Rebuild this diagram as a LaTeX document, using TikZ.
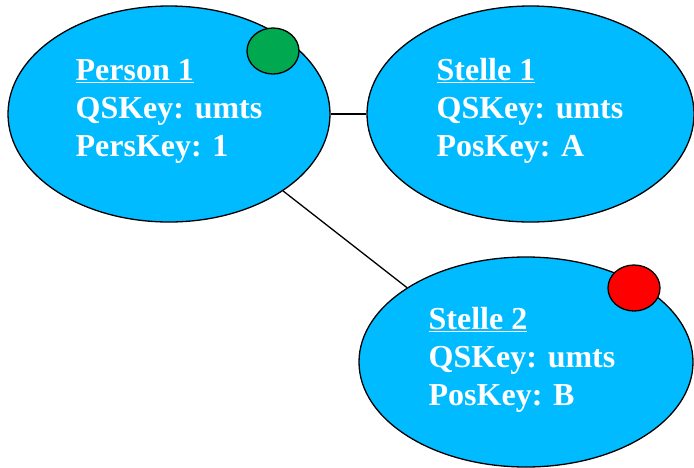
\documentclass[tikz,border=0pt]{standalone}
\usepackage{fontspec}
\setmainfont{Liberation Serif}
\usetikzlibrary{shapes.geometric}
\definecolor{skyblue}{RGB}{0,187,255}
\definecolor{dotgreen}{RGB}{0,168,80}
\definecolor{dotred}{RGB}{255,0,0}
\tikzstyle{entity}=[draw,ellipse,fill=skyblue]
\tikzstyle{entitytext}=[text=white,align=left,inner sep=0pt,anchor=base west,font=\bfseries\fontsize{32}{38}\selectfont]
\tikzstyle{marker}=[draw,ellipse,minimum width=52pt,minimum height=46pt,inner sep=0pt]

\begin{document}
\begin{tikzpicture}[x=1pt,y=-1pt,line width=1.3pt]
\useasboundingbox (0,0) rectangle (694,467);
  % ellipse centre, size, baseline of the last text line
  \foreach \place/\name/\w/\h/\txtpos/\title/\keyline in
           {{(169,114)/p1/322/216/(75,156)/Person 1/PersKey: 1},
            {(530.5,114)/s1/327/216/(436,156)/Stelle 1/PosKey: A},
            {(526,362)/s2/334/210/(428,405)/Stelle 2/PosKey: B}}
  {
    \node[entity,minimum width=\w pt,minimum height=\h pt] (\name) at \place {};
    \node[entitytext] (\name txt) at \txtpos {\underline{\title}\\QSKey: umts\\\keyline};
  }
  \foreach \place/\name/\col in {{(273,51)/g1/dotgreen},
                                 {(634,288)/r2/dotred}}
    \node[marker,fill=\col] (\name) at \place {};
  \draw (p1) -- (s1);
  \draw (p1.-34) -- (s2.148);
\end{tikzpicture}
\end{document}
